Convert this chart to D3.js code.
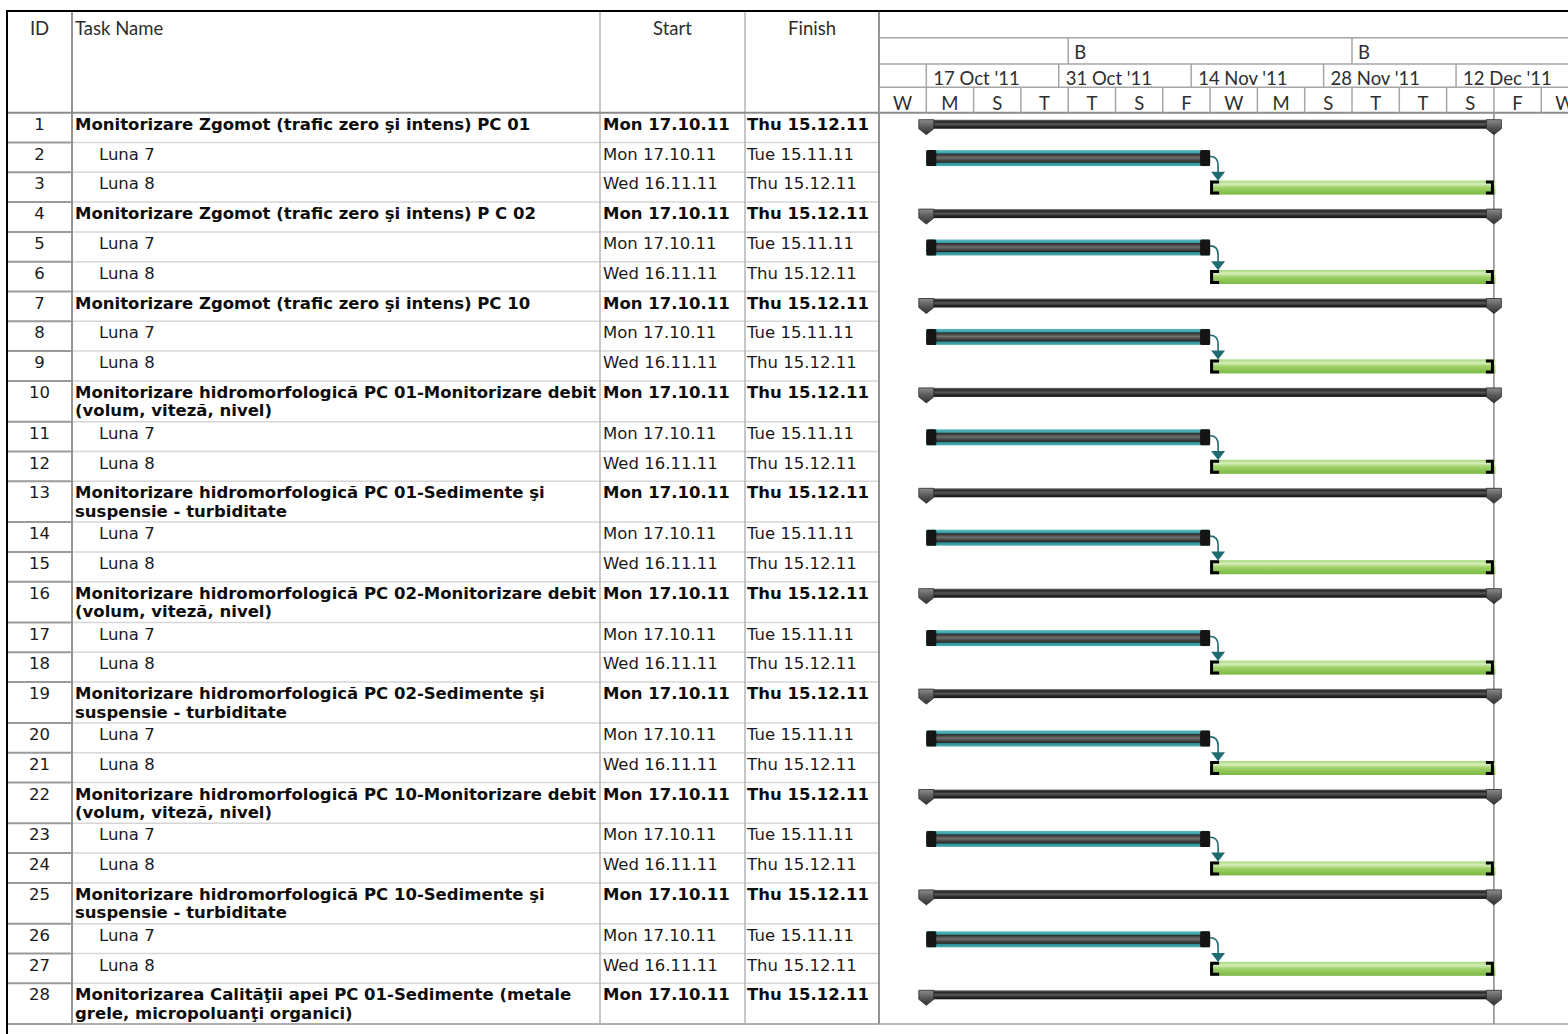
<!DOCTYPE html>
<html>
<head>
<meta charset="utf-8">
<script src="https://cdn.jsdelivr.net/npm/d3@7"></script>
<style>
  body { margin: 0; background: #fff; }
  svg { display: block; }
  .cell { font-family: "DejaVu Sans", sans-serif; font-size: 16.5px; fill: #1a1a1a; }
  .cell.bold { font-weight: bold; fill: #0d0d0d; }
  .hdr { font-family: Lato, sans-serif; font-size: 18.5px; fill: #2e2e2e; }
</style>
</head>
<body>
<div id="gantt"></div>
<script>
// task table
var taskIds = [1, 2, 3, 4, 5, 6, 7, 8, 9, 10, 11, 12, 13, 14, 15, 16, 17, 18, 19, 20, 21, 22, 23, 24, 25, 26, 27, 28];

var taskNames = [
  "Monitorizare Zgomot (trafic zero şi intens) PC 01", "Luna 7", "Luna 8",
  "Monitorizare Zgomot (trafic zero şi intens) P C 02", "Luna 7", "Luna 8",
  "Monitorizare Zgomot (trafic zero şi intens) PC 10", "Luna 7", "Luna 8",
  "Monitorizare hidromorfologică PC 01-Monitorizare debit\n(volum, viteză, nivel)", "Luna 7", "Luna 8",
  "Monitorizare hidromorfologică PC 01-Sedimente şi\nsuspensie - turbiditate", "Luna 7", "Luna 8",
  "Monitorizare hidromorfologică PC 02-Monitorizare debit\n(volum, viteză, nivel)", "Luna 7", "Luna 8",
  "Monitorizare hidromorfologică PC 02-Sedimente şi\nsuspensie - turbiditate", "Luna 7", "Luna 8",
  "Monitorizare hidromorfologică PC 10-Monitorizare debit\n(volum, viteză, nivel)", "Luna 7", "Luna 8",
  "Monitorizare hidromorfologică PC 10-Sedimente şi\nsuspensie - turbiditate", "Luna 7", "Luna 8",
  "Monitorizarea Calităţii apei PC 01-Sedimente (metale\ngrele, micropoluanţi organici)"
];

// 0 = summary task, 1 = sub task
var taskLevels = [0, 1, 1, 0, 1, 1, 0, 1, 1, 0, 1, 1, 0, 1, 1, 0, 1, 1, 0, 1, 1, 0, 1, 1, 0, 1, 1, 0];

var startLabels = [
  "Mon 17.10.11", "Mon 17.10.11", "Wed 16.11.11",
  "Mon 17.10.11", "Mon 17.10.11", "Wed 16.11.11",
  "Mon 17.10.11", "Mon 17.10.11", "Wed 16.11.11",
  "Mon 17.10.11", "Mon 17.10.11", "Wed 16.11.11",
  "Mon 17.10.11", "Mon 17.10.11", "Wed 16.11.11",
  "Mon 17.10.11", "Mon 17.10.11", "Wed 16.11.11",
  "Mon 17.10.11", "Mon 17.10.11", "Wed 16.11.11",
  "Mon 17.10.11", "Mon 17.10.11", "Wed 16.11.11",
  "Mon 17.10.11", "Mon 17.10.11", "Wed 16.11.11",
  "Mon 17.10.11"
];

var finishLabels = [
  "Thu 15.12.11", "Tue 15.11.11", "Thu 15.12.11",
  "Thu 15.12.11", "Tue 15.11.11", "Thu 15.12.11",
  "Thu 15.12.11", "Tue 15.11.11", "Thu 15.12.11",
  "Thu 15.12.11", "Tue 15.11.11", "Thu 15.12.11",
  "Thu 15.12.11", "Tue 15.11.11", "Thu 15.12.11",
  "Thu 15.12.11", "Tue 15.11.11", "Thu 15.12.11",
  "Thu 15.12.11", "Tue 15.11.11", "Thu 15.12.11",
  "Thu 15.12.11", "Tue 15.11.11", "Thu 15.12.11",
  "Thu 15.12.11", "Tue 15.11.11", "Thu 15.12.11",
  "Thu 15.12.11"
];

// percent complete (drawn as dark progress inside the bar)
var taskProgress = [0, 100, 0, 0, 100, 0, 0, 100, 0, 0, 100, 0, 0, 100, 0, 0, 100, 0, 0, 100, 0, 0, 100, 0, 0, 100, 0, 0];

// finish-to-start predecessor (task id), 0 = none
var taskPredecessors = [0, 0, 2, 0, 0, 5, 0, 0, 8, 0, 0, 11, 0, 0, 14, 0, 0, 17, 0, 0, 20, 0, 0, 23, 0, 0, 26, 0];

// timescale tiers
var monthTicks = ["01.10.11", "01.11.11", "01.12.11"];
var monthLabels = ["", "B", "B"];
var weekLabels = ["3 Oct '11", "17 Oct '11", "31 Oct '11", "14 Nov '11", "28 Nov '11", "12 Dec '11"];
var dayTickStart = "12.10.11";
var dayLetters = ["W", "M", "S", "T", "T", "S", "F", "W", "M", "S", "T", "T", "S", "F", "W"];

var svgWidth = 1568;
var svgHeight = 1034;

var col = { id: 7, name: 72, start: 600, finish: 745, chart: 879 };
var tierY = [11, 37.7, 64, 87.3, 112.7];
var headerBottom = tierY[4];
var singleRow = 29.8;
var doubleRow = 40.8;
var dayWidth = 9.46;

var parseCell = d3.utcParse("%a %d.%m.%y");
var parseTick = d3.utcParse("%d.%m.%y");
var parseWeek = d3.utcParse("%d %b '%y");

var x = d3.scaleUtc()
  .domain([parseTick("12.10.11"), parseTick("24.12.11")])
  .range([col.chart, col.chart + 73 * dayWidth]);

// build rows
var rows = taskIds.map(function(id, i) {
  var lines = taskNames[i].split("\n");
  return {
    id: id,
    lines: lines,
    level: taskLevels[i],
    startLabel: startLabels[i],
    finishLabel: finishLabels[i],
    start: parseCell(startLabels[i]),
    finish: d3.utcDay.offset(parseCell(finishLabels[i]), 1),
    progress: taskProgress[i],
    pred: taskPredecessors[i],
    h: lines.length > 1 ? doubleRow : singleRow
  };
});
var yPos = headerBottom;
rows.forEach(function(r) {
  r.top = yPos;
  yPos += r.h;
});
var tableBottom = yPos;
var byId = {};
rows.forEach(function(r) { byId[r.id] = r; });

var svg = d3.select("#gantt")
  .append("svg")
  .attr("width", svgWidth)
  .attr("height", svgHeight);

var defs = svg.append("defs");

function vGrad(id, stops) {
  var g = defs.append("linearGradient")
    .attr("id", id)
    .attr("x1", 0).attr("y1", 0).attr("x2", 0).attr("y2", 1);
  stops.forEach(function(s) {
    g.append("stop").attr("offset", s[0]).attr("stop-color", s[1]);
  });
}
vGrad("sumFill", [[0, "#6e6e6e"], [0.22, "#262626"], [0.5, "#585858"], [0.78, "#262626"], [1, "#111"]]);
vGrad("capFill", [[0, "#8c8c8c"], [0.5, "#585858"], [1, "#303030"]]);
vGrad("tealFill", [[0, "#5fb9bf"], [0.25, "#2c98a0"], [0.75, "#21848c"], [1, "#4fadb3"]]);
vGrad("coreFill", [[0, "#262626"], [0.45, "#6e6e6e"], [0.6, "#5a5a5a"], [1, "#202020"]]);
vGrad("greenFill", [[0, "#a6d679"], [0.25, "#d6eebb"], [0.5, "#9fd167"], [1, "#7ab842"]]);

defs.append("clipPath").attr("id", "chartClip")
  .append("rect")
  .attr("x", col.chart).attr("y", 0)
  .attr("width", svgWidth - col.chart).attr("height", svgHeight);

// ---------- table grid ----------
var grid = svg.append("g");

rows.forEach(function(r) {
  var yb = r.top + r.h;
  grid.append("line")
    .attr("x1", col.name).attr("x2", col.chart).attr("y1", yb).attr("y2", yb)
    .attr("stroke", "#d6d6d6").attr("stroke-width", 1.5);
  grid.append("line")
    .attr("x1", col.id).attr("x2", col.name).attr("y1", yb).attr("y2", yb)
    .attr("stroke", "#9a9a9a").attr("stroke-width", 2);
});

// bottom of table across the whole page
grid.append("line")
  .attr("x1", col.id).attr("x2", svgWidth).attr("y1", tableBottom).attr("y2", tableBottom)
  .attr("stroke", "#a0a0a0").attr("stroke-width", 1.5);

// column dividers
[col.start, col.finish].forEach(function(cx) {
  grid.append("line")
    .attr("x1", cx).attr("x2", cx).attr("y1", tierY[0]).attr("y2", tableBottom)
    .attr("stroke", "#b4b4b4").attr("stroke-width", 1.5);
});
[col.name, col.chart].forEach(function(cx) {
  grid.append("line")
    .attr("x1", cx).attr("x2", cx).attr("y1", tierY[0]).attr("y2", tableBottom)
    .attr("stroke", "#939393").attr("stroke-width", 2);
});

// header bottom
grid.append("line")
  .attr("x1", col.id).attr("x2", svgWidth).attr("y1", headerBottom).attr("y2", headerBottom)
  .attr("stroke", "#8c8c8c").attr("stroke-width", 2);

// outer frame (top and left)
grid.append("line")
  .attr("x1", col.id).attr("x2", svgWidth).attr("y1", tierY[0]).attr("y2", tierY[0])
  .attr("stroke", "#000").attr("stroke-width", 2);
grid.append("line")
  .attr("x1", col.id).attr("x2", col.id).attr("y1", tierY[0] - 1).attr("y2", svgHeight)
  .attr("stroke", "#000").attr("stroke-width", 2);

// header labels
var hdr = svg.append("g").attr("class", "hdr");
hdr.append("text").attr("x", (col.id + col.name) / 2).attr("y", 35).attr("text-anchor", "middle").text("ID");
hdr.append("text").attr("x", col.name + 3).attr("y", 35).text("Task Name");
hdr.append("text").attr("x", (col.start + col.finish) / 2).attr("y", 35).attr("text-anchor", "middle").text("Start");
hdr.append("text").attr("x", (col.finish + col.chart) / 2).attr("y", 35).attr("text-anchor", "middle").text("Finish");

// ---------- table text ----------
var rowG = svg.selectAll("g.row")
  .data(rows)
  .enter()
  .append("g")
  .attr("class", "row")
  .attr("transform", d => `translate(0, ${d.top})`);

rowG.append("text")
  .attr("class", "cell")
  .attr("x", (col.id + col.name) / 2)
  .attr("y", 17)
  .attr("text-anchor", "middle")
  .text(d => d.id);

rowG.each(function(d) {
  var t = d3.select(this).append("text")
    .attr("class", d.level === 0 ? "cell bold" : "cell")
    .attr("x", col.name + 3 + d.level * 24)
    .attr("y", 17);
  d.lines.forEach(function(line, j) {
    t.append("tspan")
      .attr("x", col.name + 3 + d.level * 24)
      .attr("y", 17 + j * 18.5)
      .text(line);
  });
});

rowG.append("text")
  .attr("class", d => d.level === 0 ? "cell bold" : "cell")
  .attr("x", col.start + 3)
  .attr("y", 17)
  .text(d => d.startLabel);

rowG.append("text")
  .attr("class", d => d.level === 0 ? "cell bold" : "cell")
  .attr("x", col.finish + 2)
  .attr("y", 17)
  .text(d => d.finishLabel);

// ---------- timescale ----------
var chart = svg.append("g").attr("clip-path", "url(#chartClip)");
var tier = chart.append("g");

[tierY[1], tierY[2], tierY[3]].forEach(function(ty) {
  tier.append("line")
    .attr("x1", col.chart).attr("x2", svgWidth).attr("y1", ty).attr("y2", ty)
    .attr("stroke", "#a6a6a6").attr("stroke-width", 1.5);
});

// months
monthTicks.forEach(function(m, i) {
  var mx = x(parseTick(m));
  tier.append("line")
    .attr("x1", mx).attr("x2", mx).attr("y1", tierY[1]).attr("y2", tierY[2])
    .attr("stroke", "#a6a6a6").attr("stroke-width", 1.5);
  tier.append("text").attr("class", "hdr")
    .attr("x", mx + 6).attr("y", 59)
    .text(monthLabels[i]);
});

// weeks
weekLabels.forEach(function(w) {
  var wx = x(parseWeek(w));
  tier.append("line")
    .attr("x1", wx).attr("x2", wx).attr("y1", tierY[2]).attr("y2", tierY[3])
    .attr("stroke", "#a6a6a6").attr("stroke-width", 1.5);
  tier.append("text").attr("class", "hdr")
    .attr("x", wx + 7).attr("y", 84.5)
    .text(w);
});

// days, every 5 days
dayLetters.forEach(function(letter, i) {
  var d0 = d3.utcDay.offset(parseTick(dayTickStart), i * 5);
  var d1 = d3.utcDay.offset(d0, 5);
  tier.append("line")
    .attr("x1", x(d0)).attr("x2", x(d0)).attr("y1", tierY[3]).attr("y2", tierY[4])
    .attr("stroke", "#a6a6a6").attr("stroke-width", 1.5);
  tier.append("text").attr("class", "hdr")
    .attr("x", (x(d0) + x(d1)) / 2).attr("y", 109.5)
    .attr("text-anchor", "middle")
    .text(letter);
});

// project finish line
var projectFinish = d3.max(rows, d => d.finish);
chart.append("line")
  .attr("x1", x(projectFinish)).attr("x2", x(projectFinish))
  .attr("y1", headerBottom).attr("y2", tableBottom)
  .attr("stroke", "#8a8a8a").attr("stroke-width", 1.5);

// ---------- bars ----------
var bars = chart.append("g");

function summaryCap(cx, top) {
  return `M${cx - 7.5},${top} H${cx + 7.5} V${top + 9} L${cx},${top + 15} L${cx - 7.5},${top + 9} Z`;
}

rows.forEach(function(r) {
  var x0 = x(r.start);
  var x1 = x(r.finish);

  if (r.level === 0) {
    var st = r.top + 7;
    bars.append("rect")
      .attr("x", x0).attr("y", st)
      .attr("width", x1 - x0).attr("height", 9)
      .attr("fill", "url(#sumFill)");
    [x0, x1].forEach(function(cx) {
      bars.append("path")
        .attr("d", summaryCap(cx, st))
        .attr("fill", "url(#capFill)")
        .attr("stroke", "#2b2b2b").attr("stroke-width", 0.8);
    });
  } else if (r.progress > 0) {
    var tt = r.top + 7.6;
    bars.append("rect")
      .attr("x", x0).attr("y", tt)
      .attr("width", x1 - x0).attr("height", 16)
      .attr("fill", "url(#tealFill)");
    var px = x0 + (x1 - x0) * r.progress / 100;
    bars.append("rect")
      .attr("x", x0).attr("y", tt + 3.5)
      .attr("width", px - x0).attr("height", 9)
      .attr("fill", "url(#coreFill)");
    [x0, x1 - 10].forEach(function(cx) {
      bars.append("rect")
        .attr("x", cx).attr("y", tt)
        .attr("width", 10).attr("height", 16)
        .attr("rx", 1.5)
        .attr("fill", "#151515");
    });
  } else {
    var gt = r.top + 8.3;
    bars.append("rect")
      .attr("x", x0).attr("y", gt)
      .attr("width", x1 - x0 + 1.5).attr("height", 14)
      .attr("fill", "url(#greenFill)");
    bars.append("path")
      .attr("d", `M${x0 + 9},${gt + 1.5} H${x0 + 1.5} V${gt + 12.5} H${x0 + 9}`)
      .attr("fill", "none").attr("stroke", "#000").attr("stroke-width", 3);
    bars.append("path")
      .attr("d", `M${x1 - 8},${gt + 1.5} H${x1 - 1.5} V${gt + 12.5} H${x1 - 8}`)
      .attr("fill", "none").attr("stroke", "#000").attr("stroke-width", 3);
  }

  // finish-to-start link
  if (r.pred) {
    var p = byId[r.pred];
    var lx = x(p.finish);
    var ly = p.top + 14;
    var ax = lx + 8;
    var tip = r.top + 8.5;
    bars.append("path")
      .attr("d", `M${lx},${ly} C${lx + 6},${ly} ${ax},${ly + 3} ${ax},${ly + 9} V${tip - 8}`)
      .attr("fill", "none")
      .attr("stroke", "#1f6b72").attr("stroke-width", 1.6);
    bars.append("path")
      .attr("d", `M${ax - 7},${tip - 9} H${ax + 7} L${ax},${tip} Z`)
      .attr("fill", "#1f6b72");
  }
});
</script>
</body>
</html>
